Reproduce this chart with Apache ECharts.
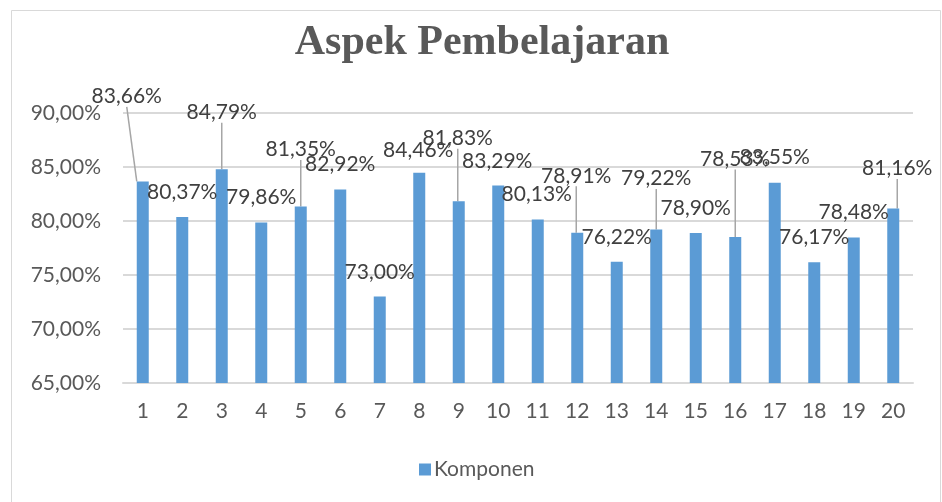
<!DOCTYPE html>
<html>
<head>
<meta charset="utf-8">
<script src="https://cdn.jsdelivr.net/npm/echarts@6/dist/echarts.min.js"></script>
<style>
  html, body { margin: 0; padding: 0; background: #fff; }
  #chart { width: 942px; height: 502px; }
</style>
</head>
<body>
<div id="chart"></div>
<script>
let categories = ['1', '2', '3', '4', '5', '6', '7', '8', '9', '10',
    '11', '12', '13', '14', '15', '16', '17', '18', '19', '20']
let komponen = [83.66, 80.37, 84.79, 79.86, 81.35, 82.92, 73.00, 84.46, 81.83, 83.29,
    80.13, 78.91, 76.22, 79.22, 78.90, 78.53, 83.55, 76.17, 78.48, 81.16]
let yTicks = { min: 65, max: 90, step: 5 }

// where each data label sits, measured from the top centre of its bar
let labelDx = [-16, 0, 0, 0, 0, 0, 0, -1, -1, -1, -1, -1, 0, 0, 0, 0, 0, 0, 0, 4]
let labelDy = [-85, -25, -57, -25, -57, -25, -24, -23, -63, -24, -25, -57, -25, -51, -25, -78, -25, -25, -25, -40]
let hasLeader = [1, 0, 1, 0, 1, 0, 0, 0, 1, 0, 0, 1, 0, 1, 0, 1, 0, 0, 0, 1]

let fmt = (v) => v.toFixed(2).replace('.', ',') + '%'

let mychart = echarts.init(document.getElementById('chart'))

let options = {
    animation: false,
    backgroundColor: '#ffffff',
    graphic: [{
        type: 'rect',
        shape: { x: 11.5, y: 10.5, width: 929, height: 520 },
        style: { fill: 'none', stroke: '#d9d9d9', lineWidth: 1 },
        silent: true
    }],
    title: {
        text: 'Aspek Pembelajaran',
        left: 477,
        top: 17,
        textAlign: 'center',
        textStyle: {
            fontFamily: 'Liberation Serif',
            fontWeight: 'bold',
            fontSize: 42,
            color: '#595959'
        }
    },
    legend: {
        data: ['Komponen'],
        left: 414,
        top: 454,
        icon: 'rect',
        itemWidth: 12,
        itemHeight: 12,
        itemGap: 10,
        textStyle: {
            fontFamily: 'Lato',
            fontSize: 21,
            color: '#595959',
            padding: [0, 0, 0, -2]
        }
    },
    grid: {
        left: 123,
        right: 29,
        top: 113,
        bottom: 119,
        containLabel: false
    },
    xAxis: {
        type: 'category',
        data: categories,
        axisTick: { show: false },
        axisLine: { lineStyle: { color: '#d9d9d9', width: 2 } },
        axisLabel: {
            margin: 18,
            fontFamily: 'Lato',
            fontSize: 21,
            color: '#595959'
        }
    },
    yAxis: {
        type: 'value',
        min: yTicks.min,
        max: yTicks.max,
        interval: yTicks.step,
        axisLine: { show: false },
        axisTick: { show: false },
        splitLine: { lineStyle: { color: '#d9d9d9', width: 2 } },
        axisLabel: {
            margin: 22,
            fontFamily: 'Lato',
            fontSize: 21,
            color: '#595959',
            formatter: fmt
        }
    },
    series: [{
        name: 'Komponen',
        type: 'bar',
        barWidth: 12,
        itemStyle: { color: '#5b9bd5' },
        data: komponen.map((v, i) => ({
            value: v,
            labelLine: { show: !!hasLeader[i] }
        })),
        label: {
            show: true,
            position: 'top',
            fontFamily: 'Lato',
            fontSize: 21,
            color: '#404040',
            formatter: (p) => fmt(p.value)
        },
        labelLine: {
            show: true,
            lineStyle: { color: '#a6a6a6', width: 1.5 }
        },
        labelLayout: function (params) {
            let i = params.dataIndex
            let r = params.rect
            return {
                x: r.x + r.width / 2 + labelDx[i],
                y: r.y + labelDy[i],
                align: 'center',
                verticalAlign: 'middle'
            }
        }
    }]
}

mychart.setOption(options)
window.addEventListener('resize', () => {
    mychart?.resize()
})
</script>
</body>
</html>
